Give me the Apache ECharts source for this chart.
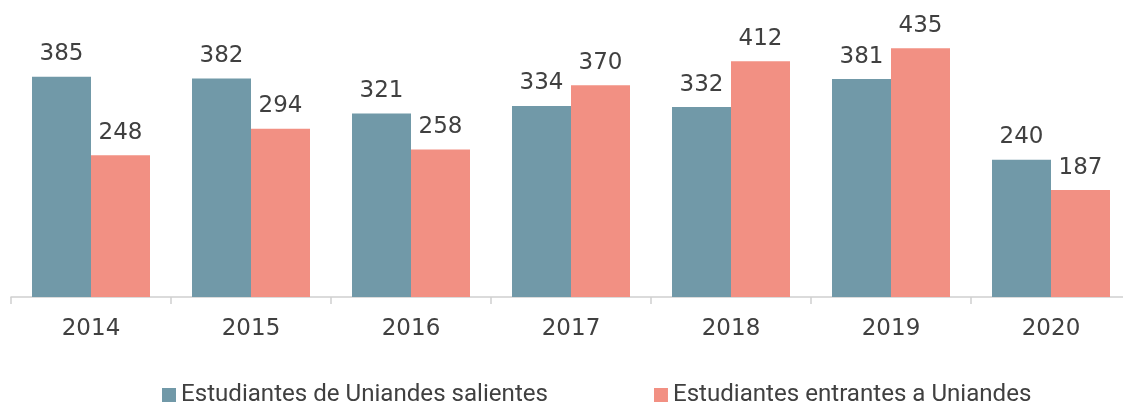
<!DOCTYPE html>
<html>
<head>
<meta charset="utf-8">
<script src="https://cdn.jsdelivr.net/npm/echarts@6/dist/echarts.min.js"></script>
<style>
html,body{margin:0;padding:0;background:#fff;}
#chart{width:1123px;height:407px;}
</style>
</head>
<body>
<div id="chart"></div>
<script>
// Intercambio estudiantil por año
const years = ['2014', '2015', '2016', '2017', '2018', '2019', '2020'];
const salientes = [385, 382, 321, 334, 332, 381, 240];
const entrantes = [248, 294, 258, 370, 412, 435, 187];
const seriesNames = ['Estudiantes de Uniandes salientes', 'Estudiantes entrantes a Uniandes'];

const numberFont = '"DejaVu Sans", sans-serif';
const legendFont = 'Roboto, "Liberation Sans", sans-serif';
const textColor = '#404040';

const chart = echarts.init(document.getElementById('chart'), null, { renderer: 'canvas' });

const valueLabel = {
  show: true,
  position: 'top',
  distance: 11,
  fontSize: 23,
  fontFamily: numberFont,
  color: textColor
};

chart.setOption({
  animation: false,
  grid: {
    left: 11, width: 1120, top: 11, bottom: 110,
    containLabel: false,
    outerBoundsMode: 'none'
  },
  legend: {
    left: 162,
    bottom: 0,
    padding: 0,
    itemWidth: 14,
    itemHeight: 14,
    itemGap: 106,
    icon: 'rect',
    textStyle: { fontSize: 24.1, color: textColor, fontFamily: legendFont },
    data: seriesNames
  },
  xAxis: {
    type: 'category',
    data: years,
    axisLine: { show: true, lineStyle: { color: '#cfcfcf', width: 1.5 } },
    axisTick: { show: true, length: 7, lineStyle: { color: '#cfcfcf', width: 1.5 } },
    axisLabel: { fontSize: 23, fontFamily: numberFont, color: textColor, margin: 21 }
  },
  yAxis: {
    type: 'value',
    min: 0,
    max: 500,
    show: false,
    splitLine: { show: false }
  },
  series: [
    {
      name: seriesNames[0],
      type: 'bar',
      data: salientes,
      barWidth: 59,
      barGap: '0%',
      itemStyle: { color: '#7199A8' },
      label: valueLabel
    },
    {
      name: seriesNames[1],
      type: 'bar',
      data: entrantes,
      barWidth: 59,
      barGap: '0%',
      itemStyle: { color: '#F29083' },
      label: valueLabel
    }
  ]
});
</script>
</body>
</html>
